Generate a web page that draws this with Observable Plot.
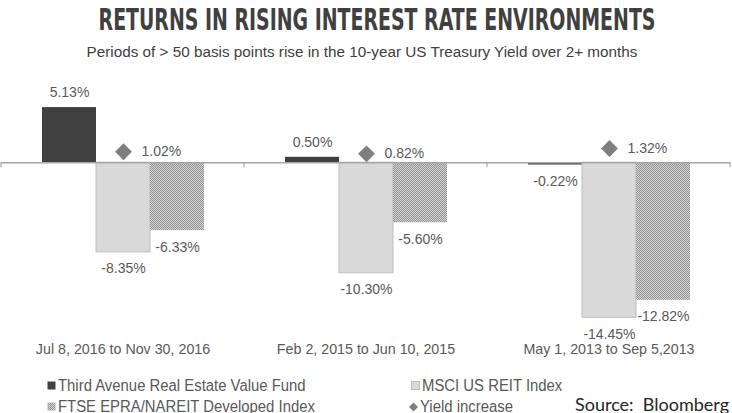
<!DOCTYPE html>
<html>
<head>
<meta charset="utf-8">
<script src="https://cdn.jsdelivr.net/npm/d3@7"></script>
<script src="https://cdn.jsdelivr.net/npm/@observablehq/plot@0.6"></script>
<style>
  html, body { margin: 0; padding: 0; background: #fff; }
  #wrap { position: relative; width: 732px; height: 413px; overflow: hidden; }
  .sans { font-family: "Liberation Sans", Arial, sans-serif; }
  #title { position: absolute; left: 376.5px; top: 3px; white-space: nowrap; font-family: "DejaVu Sans", sans-serif; font-weight: bold; font-size: 30px; line-height: 34px; color: #404040; transform-origin: center; }
  #subtitle { position: absolute; left: 361.5px; top: 42px; white-space: nowrap; font-size: 15.5px; line-height: 20px; color: #404040; transform-origin: center; }
  #chart { position: absolute; left: 0; top: 70px; }
  .leg { position: absolute; white-space: nowrap; font-size: 16px; line-height: 20px; color: #595959; }
  .leg svg { position: absolute; }
  .leg span { display: inline-block; transform-origin: left center; transform: scaleX(0.93); }
  #source { position: absolute; left: 575px; top: 395px; white-space: nowrap; font-family: Lato, "Open Sans", sans-serif; font-size: 18px; line-height: 18px; color: #262626; }
</style>
</head>
<body>
<div id="wrap">
  <div id="title">RETURNS IN RISING INTEREST RATE ENVIRONMENTS</div>
  <div id="subtitle" class="sans">Periods of &gt; 50 basis points rise in the 10-year US Treasury Yield over 2+ months</div>
  <div id="chart"></div>
  <div id="legend"></div>
  <div id="source">Source:&nbsp; Bloomberg</div>
</div>
<script>
// ---- data ----
const periods = ["Jul 8, 2016 to Nov 30, 2016", "Feb 2, 2015 to Jun 10, 2015", "May 1, 2013 to Sep 5,2013"];
const seriesNames = ["Third Avenue Real Estate Value Fund", "MSCI US REIT Index", "FTSE EPRA/NAREIT Developed Index"];
const yieldName = "Yield increase";
const thirdAvenue = [5.13, 0.50, -0.22];
const msciReit = [-8.35, -10.30, -14.45];
const ftseEpra = [-6.33, -5.60, -12.82];
const yieldIncrease = [1.02, 0.82, 1.32];

const seriesValues = [thirdAvenue, msciReit, ftseEpra];
const rows = periods.flatMap((p, i) => seriesNames.map((s, j) => ({period: p, series: s, value: seriesValues[j][i]})));
const yields = periods.map((p, i) => ({period: p, value: yieldIncrease[i]}));
const pct = d => d.value.toFixed(2) + "%";

const labelFont = {fontFamily: "'Liberation Sans', Arial, sans-serif", fontSize: 14, fill: "#595959"};

const plot = Plot.plot({
  width: 732,
  height: 300,
  marginLeft: 1,
  marginRight: 2,
  marginTop: 17,
  marginBottom: 36,
  style: {background: "transparent", overflow: "visible"},
  fx: {domain: periods, padding: 0, axis: null},
  x: {domain: seriesNames, paddingInner: 0, paddingOuter: 0.75, axis: null},
  y: {domain: [-16, 7], axis: null},
  marks: [
    Plot.barY(rows.filter(d => d.series === seriesNames[0]), {fx: "period", x: "series", y: "value", fill: "#404040"}),
    Plot.barY(rows.filter(d => d.series === seriesNames[1]), {fx: "period", x: "series", y: "value", fill: "#d9d9d9", stroke: "#bdbdbd", strokeWidth: 1}),
    Plot.barY(rows.filter(d => d.series === seriesNames[2]), {fx: "period", x: "series", y: "value", fill: "url(#checker)"}),
    Plot.ruleY([0], {stroke: "#a6a6a6", strokeWidth: 1.5}),
    Plot.dot(yields, {fx: "period", x: () => seriesNames[1], y: "value", symbol: "diamond2", r: 7.6, fill: "#7f7f7f", stroke: "none"}),
    Plot.text(yields, {fx: "period", x: () => seriesNames[1], y: "value", text: pct, dx: 18, textAnchor: "start", ...labelFont}),
    Plot.text(rows.filter(d => d.value >= 0), {fx: "period", x: "series", y: "value", text: pct, dy: -15, ...labelFont}),
    Plot.text(rows.filter(d => d.value < 0), {fx: "period", x: "series", y: "value", text: pct, dy: 16.5, ...labelFont}),
    Plot.text(periods, {fx: d => d, text: d => d, frameAnchor: "bottom", dy: 19.5,
      fontFamily: "'Liberation Sans', Arial, sans-serif", fontSize: 15, fill: "#595959"})
  ]
});

document.getElementById("chart").appendChild(plot);

// pattern definition
const svg = d3.select(plot);
svg.insert("defs", ":first-child").html(
  '<pattern id="checker" patternUnits="userSpaceOnUse" width="2" height="2">' +
  '<rect width="2" height="2" fill="#d4d4d4"/>' +
  '<rect x="0" y="0" width="1" height="1" fill="#939393"/>' +
  '<rect x="1" y="1" width="1" height="1" fill="#939393"/>' +
  '</pattern>');

// slightly narrow the category labels (condensed look)
svg.selectAll("text").filter(function () { return periods.includes(this.textContent); })
  .each(function () {
    const w = this.getComputedTextLength();
    this.setAttribute("textLength", (w * 0.95).toFixed(1));
    this.setAttribute("lengthAdjust", "spacingAndGlyphs");
  });

// category boundary ticks on the zero axis, from the fx and y scales
const fx = plot.scale("fx");
const yS = plot.scale("y");
const y0 = yS.apply(0);
const bounds = periods.map(p => fx.apply(p)).concat([fx.apply(periods[periods.length - 1]) + fx.bandwidth]);
svg.append("g").selectAll("line").data(bounds).join("line")
  .attr("x1", d => d).attr("x2", d => d)
  .attr("y1", y0).attr("y2", y0 + 5)
  .attr("stroke", "#a6a6a6").attr("stroke-width", 1.2);

// title / subtitle fitted to the reference widths
function fit(el, target) {
  const w = el.getBoundingClientRect().width;
  el.style.transform = `translateX(-50%) scaleX(${(target / w).toFixed(3)})`;
}
fit(document.getElementById("title"), 557);
fit(document.getElementById("subtitle"), 551);

// legend
const legendItems = [
  {name: seriesNames[0], kind: "square", fill: "#404040", x: 47, y: 375.5},
  {name: seriesNames[1], kind: "square", fill: "#d9d9d9", stroke: "#bdbdbd", x: 411, y: 375.5},
  {name: seriesNames[2], kind: "square", fill: "url(#checker)", x: 47, y: 396.5},
  {name: yieldName, kind: "diamond", fill: "#7f7f7f", x: 409, y: 396.5}
];
const legend = d3.select("#legend");
for (const it of legendItems) {
  const div = legend.append("div").attr("class", "leg sans")
    .style("left", it.x + "px").style("top", it.y + "px");
  const s = div.append("svg").attr("width", 10).attr("height", 10)
    .style("left", "0px").style("top", "5.5px");
  if (it.kind === "square") {
    s.append("rect").attr("x", 0.5).attr("y", 0.5).attr("width", 8).attr("height", 8)
      .attr("fill", it.fill).attr("stroke", it.stroke || "none");
  } else {
    s.append("path").attr("d", "M4.5,0.5L9,5L4.5,9.5L0,5Z").attr("fill", it.fill);
  }
  div.append("span").style("margin-left", "11px").text(it.name);
}
</script>
</body>
</html>
